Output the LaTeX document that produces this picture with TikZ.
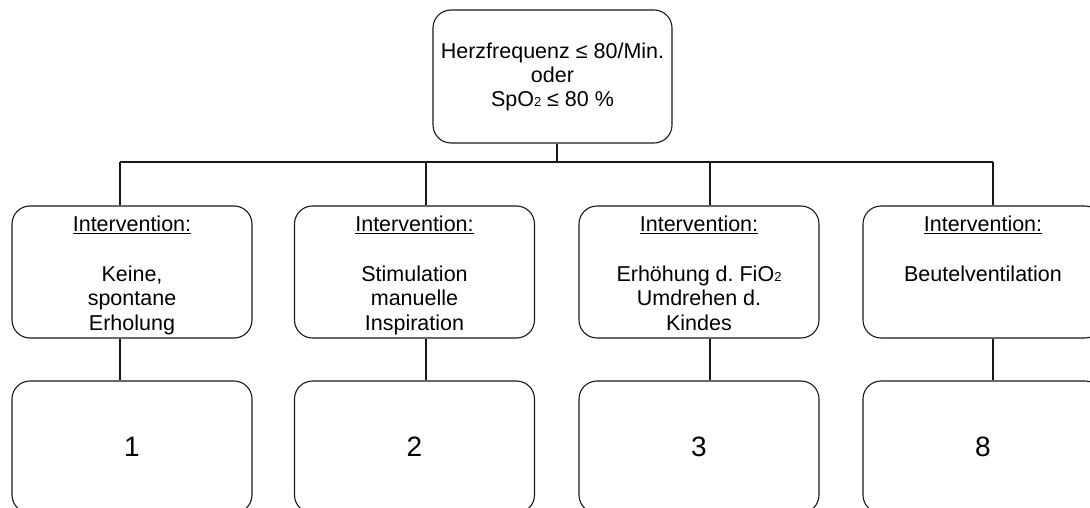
\documentclass[tikz,border=0pt]{standalone}
\usepackage{fontspec}
\setmainfont{Liberation Sans}
\frenchspacing
\newcommand\mysubtwo{\raisebox{-0.5pt}{\fontsize{13}{13}\selectfont 2}}
\newcommand\intbox[1]{\parbox[c][132pt][t]{240pt}{\centering\frenchspacing\fontsize{21.5}{24.8}\selectfont\vspace*{10pt}\underline{Intervention:}\\[24.8pt]#1}}
\begin{document}
\begin{tikzpicture}[x=1pt,y=-1pt,
  line/.style={draw=black!90,line width=1.1pt},
  rbox/.style={line,rounded corners=18pt,inner sep=0pt},
  topbox/.style={rbox,minimum width=239pt,minimum height=133pt,align=center,font=\fontsize{21.5}{24}\selectfont},
  ibox/.style={rbox,minimum width=240pt,minimum height=132pt},
  nbox/.style={rbox,minimum width=240pt,minimum height=132pt,font=\fontsize{28}{30}\selectfont}]
\useasboundingbox (0,0) rectangle (1090,508);
\clip (0,0) rectangle (1090,508);
\fill[white] (0,0) rectangle (1090,508);
\node[topbox] (top) at (552.5,76.5) {Herzfrequenz ≤ 80/Min.\\oder\\SpO\mysubtwo{} ≤ 80 \%};
\node[ibox] (i1) at (132,272) {\intbox{Keine,\\spontane\\Erholung}};
\node[ibox] (i2) at (414.5,272) {\intbox{Stimulation\\manuelle\\Inspiration}};
\node[ibox] (i3) at (699,272) {\intbox{Erhöhung d. FiO\mysubtwo\\Umdrehen d.\\Kindes}};
\node[ibox] (i4) at (983,272) {\intbox{Beutelventilation}};
\node[nbox] (r1) at (132,447) {1};
\node[nbox] (r2) at (414.5,447) {2};
\node[nbox] (r3) at (699,447) {3};
\node[nbox] (r4) at (983,447) {8};
\coordinate (b0) at (557,162);
\coordinate (b1) at (120,162);
\coordinate (b2) at (426,162);
\coordinate (b3) at (710,162);
\coordinate (b4) at (993,162);
\draw[line] (b0 |- top.south) -- (b0);
\draw[line] (b1) -- (b4);
\foreach \k in {1,2,3,4}{
  \draw[line] (b\k) -- (b\k |- i\k.north);
  \draw[line] (b\k |- i\k.south) -- (b\k |- r\k.north);
}
\end{tikzpicture}
\end{document}
